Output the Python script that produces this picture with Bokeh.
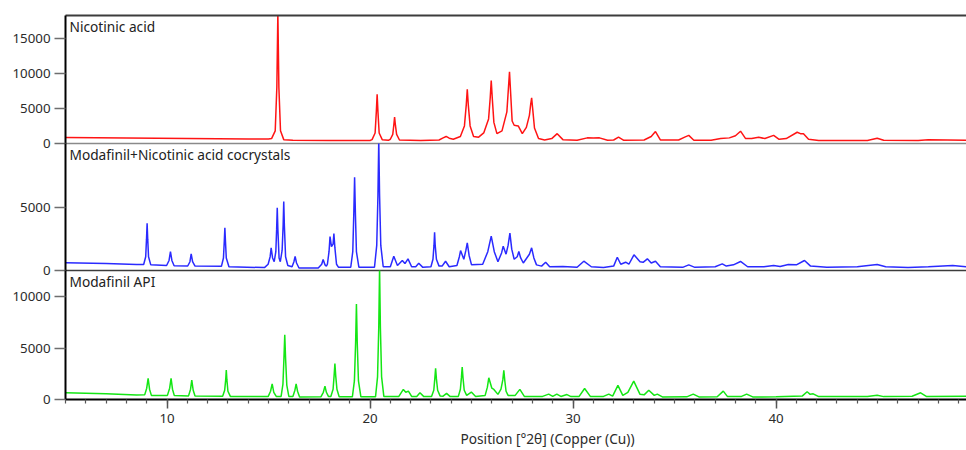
from bokeh.plotting import figure
from bokeh.models import Range1d, LinearAxis, FixedTicker, Label, Title, ColumnDataSource
from bokeh.layouts import column
from bokeh.embed import file_html
from bokeh.resources import INLINE

# ---------------- data ----------------
X_START, X_END = 5.0, 49.38
x_major_ticks = [10, 20, 30, 40]
x_minor_ticks = list(range(5, 50))
x_axis_label = "Position [°2θ] (Copper (Cu))"

panel_names = ["Nicotinic acid", "Modafinil+Nicotinic acid cocrystals", "Modafinil API"]
panel_tops = [18200, 10130, 12530]
panel_yticks = [[0, 5000, 10000, 15000], [0, 5000], [0, 5000, 10000]]
panel_colors = ["#ff1414", "#2a2aff", "#14e614"]

# Nicotinic acid pattern: (2theta, counts)
nicotinic_pts = [
    (5.0, 850), (8.0, 780), (11.0, 720), (14.0, 650), (15.0, 640),
    (15.15, 700), (15.33, 1800), (15.41, 8000), (15.46, 18600), (15.51, 8000), (15.59, 1800), (15.75, 550),
    (16.2, 450), (18.0, 420), (20.0, 430),
    (20.1, 550), (20.25, 1500), (20.31, 4500), (20.35, 7000), (20.39, 4500), (20.45, 1500), (20.6, 550),
    (20.9, 450),
    (21.0, 600), (21.12, 1300), (21.17, 2600), (21.21, 3750), (21.25, 2600), (21.31, 1300), (21.45, 500),
    (22.5, 430), (23.4, 500), (23.6, 800), (23.75, 1000), (23.9, 750), (24.1, 600),
    (24.45, 1000), (24.65, 2500), (24.74, 5500), (24.79, 7700), (24.84, 5500), (24.93, 2500), (25.1, 1000),
    (25.35, 900),
    (25.6, 1500), (25.84, 3500), (25.92, 6500), (25.97, 8950), (26.02, 6500), (26.1, 3000), (26.25, 1400),
    (26.5, 1800), (26.74, 4500), (26.82, 8000), (26.87, 10200), (26.92, 7500), (27.0, 3200), (27.1, 2600),
    (27.3, 2500), (27.5, 1400),
    (27.7, 2300), (27.85, 4000), (27.91, 5500), (27.96, 6500), (28.01, 5000), (28.1, 2200), (28.3, 700),
    (28.6, 500), (28.95, 700), (29.22, 1400), (29.5, 550), (30.2, 450),
    (30.7, 800), (31.0, 780), (31.3, 800), (31.7, 450), (32.0, 500), (32.24, 900),
    (32.5, 450), (33.5, 500), (33.85, 1000), (34.06, 1700), (34.3, 500), (35.2, 500),
    (35.5, 900), (35.7, 1150), (35.95, 450), (36.8, 450), (37.27, 700), (37.7, 800),
    (38.0, 1100), (38.25, 1750), (38.5, 700), (38.8, 700), (39.14, 900), (39.45, 700),
    (39.88, 1150), (40.15, 600), (40.5, 700), (41.04, 1600), (41.2, 1400), (41.35, 1400),
    (41.6, 600), (42.1, 430), (44.5, 430), (44.98, 750), (45.3, 450), (47.0, 430),
    (47.5, 550), (49.4, 450),
]

# Modafinil + nicotinic acid cocrystals
cocrystal_pts = [
    (5.0, 620), (7.0, 560), (8.5, 470),
    (8.85, 480), (8.95, 1100), (8.99, 2500), (9.02, 3770), (9.05, 2500), (9.09, 1100), (9.2, 450),
    (9.98, 400), (10.1, 800), (10.17, 1510), (10.24, 800), (10.35, 380),
    (11.02, 360), (11.13, 700), (11.19, 1330), (11.26, 700), (11.38, 350),
    (12.68, 330), (12.78, 1000), (12.82, 2300), (12.85, 3400), (12.88, 2300), (12.92, 1000), (13.05, 300),
    (14.8, 230), (14.98, 500), (15.08, 1100), (15.13, 1810), (15.2, 1000),
    (15.28, 700), (15.36, 1500), (15.4, 3300), (15.43, 5000), (15.46, 3300), (15.52, 1000), (15.58, 700),
    (15.67, 1600), (15.72, 3600), (15.75, 5500), (15.78, 3600), (15.84, 1100), (15.95, 400),
    (16.16, 300), (16.25, 700), (16.31, 1120), (16.38, 600), (16.5, 200),
    (17.45, 200), (17.62, 500), (17.69, 880), (17.78, 450), (17.85, 350),
    (17.9, 500), (17.98, 1500), (18.03, 2700), (18.1, 1900), (18.18, 2100), (18.22, 2950), (18.27, 1800),
    (18.35, 500), (18.45, 250),
    (19.05, 260), (19.15, 1500), (19.2, 4500), (19.24, 7440), (19.28, 4500), (19.33, 1500), (19.45, 260),
    (20.22, 260), (20.33, 2000), (20.39, 6000), (20.43, 10400), (20.47, 6000), (20.53, 2000), (20.65, 300),
    (21.0, 300), (21.17, 1140),
    (21.35, 400), (21.59, 800), (21.72, 550), (21.87, 930), (22.05, 300), (22.25, 300),
    (22.4, 580), (22.6, 250),
    (23.0, 300), (23.1, 900), (23.15, 2000), (23.18, 3050), (23.21, 2000), (23.27, 900), (23.4, 350),
    (23.55, 350), (23.72, 740), (23.9, 300), (24.28, 400), (24.4, 1100), (24.46, 1590), (24.62, 900),
    (24.72, 1600), (24.79, 2200), (24.88, 1200), (25.0, 450), (25.55, 500), (25.8, 1500), (25.97, 2740),
    (26.12, 1500), (26.3, 700), (26.48, 1400), (26.56, 1940), (26.7, 1300), (26.8, 2000),
    (26.89, 2980), (26.98, 1700), (27.1, 900), (27.25, 1100), (27.33, 1510), (27.42, 1000), (27.55, 600),
    (27.85, 1300), (27.96, 1810), (28.07, 1000), (28.2, 450),
    (28.45, 350), (28.65, 660), (28.85, 300), (29.5, 320), (30.2, 260), (30.53, 740),
    (30.9, 300), (31.5, 240), (32.0, 350), (32.18, 1060), (32.35, 500), (32.59, 660),
    (32.75, 500), (33.0, 1250), (33.3, 700), (33.45, 650), (33.66, 930), (33.85, 600),
    (34.06, 740), (34.3, 300), (35.4, 250), (35.7, 450), (36.0, 250), (37.0, 300),
    (37.35, 530), (37.55, 350), (37.9, 450), (38.25, 720), (38.6, 300), (39.4, 300),
    (39.88, 400), (40.2, 320), (40.6, 480), (41.0, 450), (41.4, 800), (41.7, 350),
    (42.5, 250), (44.0, 300), (44.98, 480), (45.4, 300), (46.5, 240), (47.5, 300),
    (48.7, 400), (49.4, 300),
]

# Modafinil API
modafinil_pts = [
    (5.0, 650), (7.0, 560), (8.5, 430),
    (8.9, 450), (9.0, 1100), (9.07, 2050), (9.14, 1000), (9.23, 400),
    (10.02, 400), (10.13, 1100), (10.2, 2050), (10.27, 1000), (10.36, 380),
    (11.06, 350), (11.16, 1000), (11.22, 1880), (11.29, 900), (11.38, 340),
    (12.74, 320), (12.84, 900), (12.89, 1900), (12.92, 2860), (12.95, 1900), (13.0, 800), (13.12, 300),
    (14.98, 280), (15.1, 800), (15.18, 1520), (15.26, 700), (15.38, 300),
    (15.62, 300), (15.71, 1500), (15.76, 4000), (15.8, 6280), (15.84, 4000), (15.9, 1400), (16.0, 300),
    (16.2, 300), (16.3, 900), (16.36, 1520), (16.43, 800), (16.53, 250),
    (17.58, 260), (17.7, 700), (17.78, 1300), (17.85, 700), (17.95, 300),
    (18.07, 300), (18.18, 1000), (18.23, 2300), (18.27, 3480), (18.31, 2300), (18.37, 1000), (18.48, 260),
    (19.13, 260), (19.23, 1800), (19.29, 5500), (19.33, 9280), (19.37, 5500), (19.43, 1800), (19.55, 260),
    (20.27, 260), (20.37, 2200), (20.43, 7000), (20.47, 12800), (20.51, 7000), (20.57, 2200), (20.68, 300),
    (21.42, 300), (21.64, 980), (21.76, 700), (21.89, 810), (22.05, 300), (22.3, 300),
    (22.46, 650), (22.65, 280),
    (23.03, 280), (23.14, 900), (23.19, 2000), (23.23, 3030), (23.27, 2000), (23.33, 900), (23.45, 350),
    (23.6, 320), (23.77, 590), (23.95, 280),
    (24.35, 300), (24.45, 1000), (24.5, 2100), (24.54, 3160), (24.58, 2100), (24.64, 900), (24.76, 400),
    (24.99, 720), (25.2, 300), (25.67, 400), (25.78, 1200), (25.85, 2110), (26.0, 1100), (26.1, 980),
    (26.3, 500), (26.45, 1000), (26.54, 1900), (26.59, 2830), (26.64, 1800), (26.7, 800), (26.8, 400),
    (27.15, 400), (27.38, 980), (27.6, 300), (28.5, 300),
    (28.8, 520), (29.0, 300), (29.2, 520), (29.4, 300), (29.7, 480), (29.9, 280),
    (30.3, 300), (30.57, 1070), (30.85, 300), (31.5, 300), (31.76, 520), (31.95, 330),
    (32.21, 1370), (32.45, 400), (32.7, 700), (32.99, 1790), (33.3, 500), (33.5, 450),
    (33.73, 900), (34.0, 400), (34.15, 520), (34.4, 250), (35.6, 260), (35.92, 520),
    (36.2, 250), (37.1, 260), (37.4, 810), (37.6, 300), (38.3, 300), (38.55, 520),
    (38.85, 250), (40.0, 260), (41.3, 350), (41.53, 750), (41.68, 500), (41.83, 550),
    (42.1, 280), (43.5, 280), (44.5, 300), (44.98, 420), (45.3, 280), (46.7, 320),
    (47.12, 650), (47.4, 300), (49.4, 320),
]

panel_points = [nicotinic_pts, cocrystal_pts, modafinil_pts]

# ---------------- styling / layout ----------------
FONT = "Noto Sans"
FIG_W = 966
LEFT_BORDER = 65
OVERLAP = 8
TOP_BORDER = 15
BOTTOM_AXIS = 51
frame_heights = [128, 127, 129]


def make_panel(i):
    y_top = panel_tops[i]
    top_b = TOP_BORDER if i == 0 else 0
    bot_b = OVERLAP if i < 2 else BOTTOM_AXIS
    p = figure(width=FIG_W, height=top_b + frame_heights[i] + bot_b,
               x_range=Range1d(X_START, X_END), y_range=Range1d(0, y_top),
               output_backend="svg", toolbar_location=None,
               x_axis_location=None, y_axis_location=None)
    p.min_border_left = LEFT_BORDER
    p.min_border_right = 0
    p.min_border_top = top_b
    p.min_border_bottom = bot_b
    if i > 0:
        p.margin = (-OVERLAP, 0, 0, 0)
    p.outline_line_color = None
    p.grid.visible = False
    p.background_fill_color = None
    p.border_fill_color = None

    pts = panel_points[i]
    src = ColumnDataSource(dict(x=[a for a, b in pts], y=[b for a, b in pts]))
    p.line("x", "y", source=src, line_color=panel_colors[i], line_width=1.5)

    ya = LinearAxis(ticker=FixedTicker(ticks=panel_yticks[i], minor_ticks=[]),
                    axis_line_color="black", axis_line_width=2,
                    major_tick_out=11, major_tick_in=0,
                    major_tick_line_color="#6e6e6e", major_tick_line_width=1.5,
                    minor_tick_out=0, minor_tick_in=0,
                    major_label_text_font=FONT, major_label_text_font_size="13.3px",
                    major_label_text_color="#2b2b2b", major_label_standoff=4)
    p.add_layout(ya, "left")

    if i == 0:
        top_line = LinearAxis(ticker=FixedTicker(ticks=[], minor_ticks=[]),
                              axis_line_color="#3c3c3c", axis_line_width=2,
                              major_tick_out=0, major_tick_in=0, minor_tick_out=0, minor_tick_in=0,
                              major_label_standoff=0)
        p.add_layout(top_line, "above")
    if i < 2:
        sep = LinearAxis(ticker=FixedTicker(ticks=[], minor_ticks=[]),
                         axis_line_color=["#8a8a8a", "#3c3c3c"][i], axis_line_width=1.6,
                         major_tick_out=0, major_tick_in=0, minor_tick_out=0, minor_tick_in=0,
                         major_label_standoff=0)
        p.add_layout(sep, "below")

    lab = Label(x=X_START, y=y_top, x_offset=4, y_offset=-1, text=panel_names[i],
                text_baseline="top", text_align="left", text_font=FONT,
                text_font_size="13.7px", text_color="#222222")
    p.add_layout(lab)
    return p


p1 = make_panel(0)
p2 = make_panel(1)
p3 = make_panel(2)

xa = LinearAxis(ticker=FixedTicker(ticks=x_major_ticks, minor_ticks=x_minor_ticks),
                axis_line_color="black", axis_line_width=2,
                major_tick_out=9, major_tick_in=0, major_tick_line_color="#555555",
                major_tick_line_width=1.5,
                minor_tick_out=4, minor_tick_in=0, minor_tick_line_color="#555555",
                minor_tick_line_width=1.2,
                major_label_text_font=FONT, major_label_text_font_size="13.3px",
                major_label_text_color="#2b2b2b", major_label_standoff=5)
p3.add_layout(xa, "below")
xt = Title(text=x_axis_label, align="left", offset=395, text_font=FONT,
           text_font_size="13.7px", text_font_style="normal", text_color="#2b2b2b",
           standoff=3)
p3.add_layout(xt, "below")

layout = column(p1, p2, p3, spacing=0)

with open("out.html", "w", encoding="utf-8") as f:
    f.write(file_html(layout, INLINE))
